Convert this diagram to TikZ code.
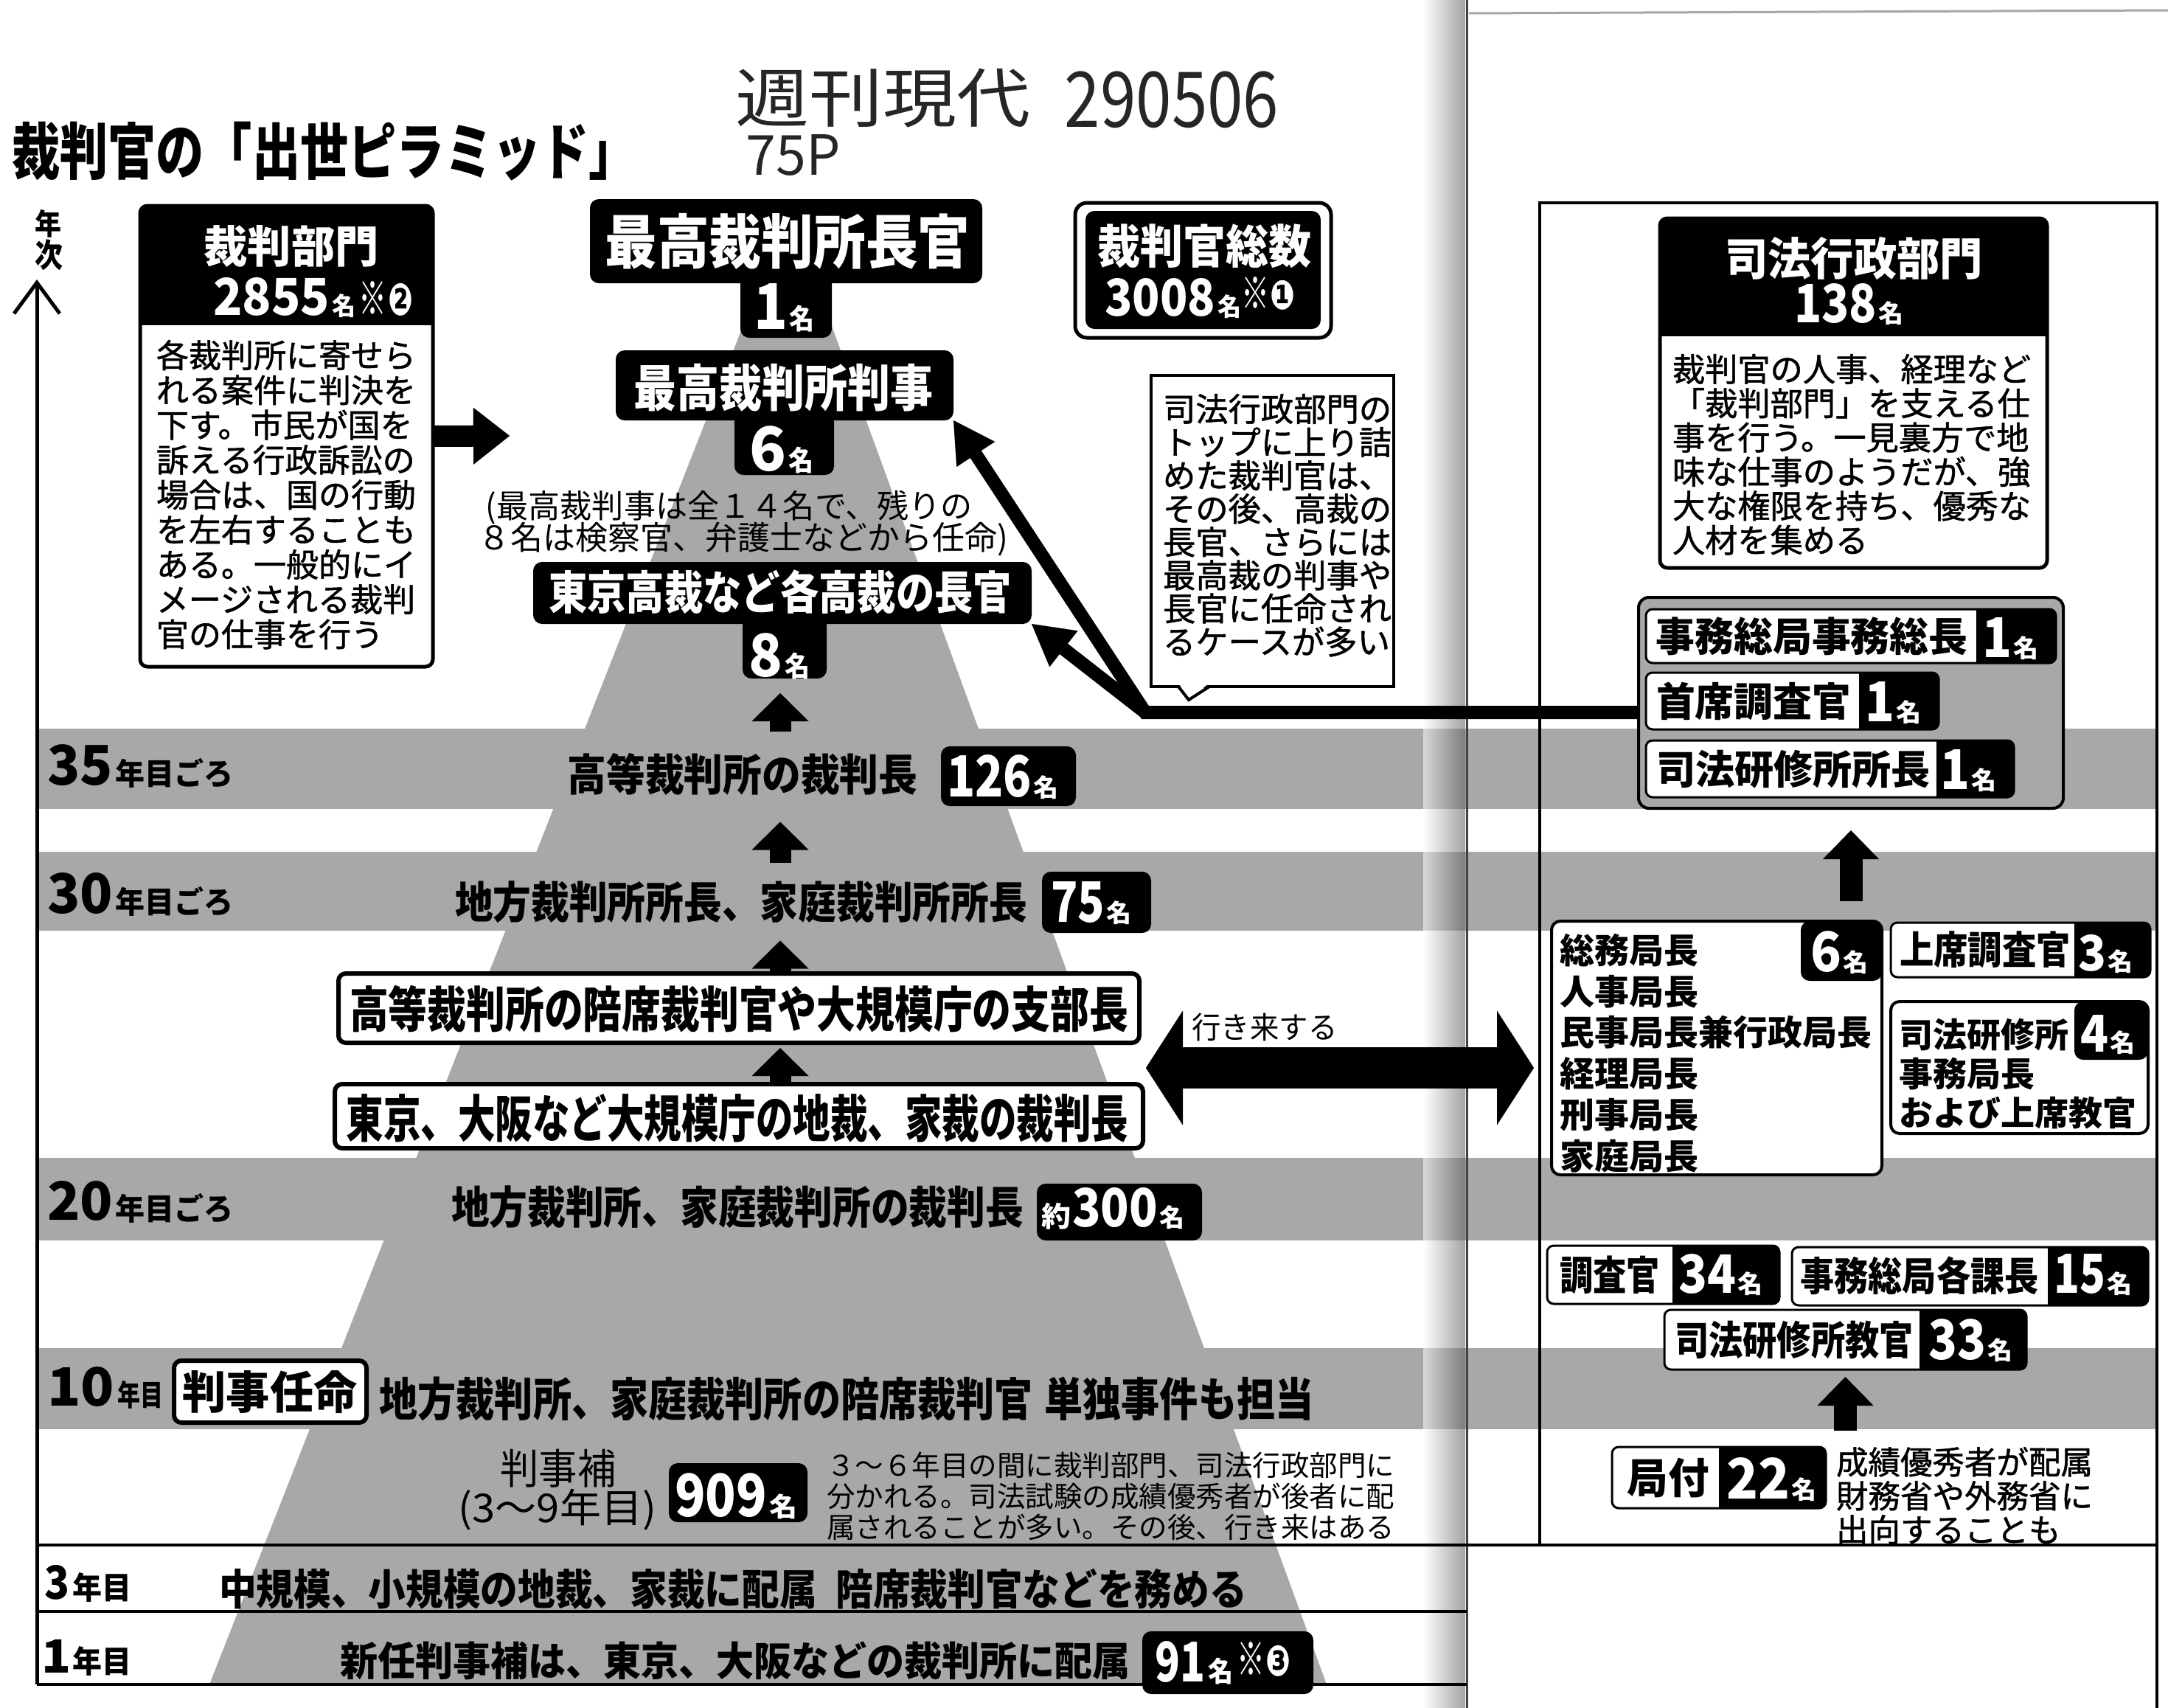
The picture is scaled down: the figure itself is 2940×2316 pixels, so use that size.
\documentclass[tikz,border=0pt]{standalone}
\usepackage{fontspec}
\usepackage{graphicx}
\setmainfont{Noto Sans CJK JP}
\newfontfamily\jpm{Noto Sans CJK JP}[FakeBold=1.2]
\newfontfamily\djv{DejaVu Sans}
\usetikzlibrary{arrows.meta}
\definecolor{band}{gray}{0.66}
\newcommand\cz[3]{\resizebox*{#1pt}{#2pt}{#3}}
\newcommand\fsz[2]{\fontsize{#1pt}{#2pt}\selectfont}
\newcommand\mei[1][34]{\cz{34}{#1}{名}}
\newcommand\bx[6][]{\node[inner sep=0pt,outer sep=0pt,minimum width={#5-#3},minimum height={#6-#4},#1] (#2) at ({(#3+#5)/2},{(#4+#6)/2}) {};}
% white box with black tab on the right: name x1 y1 x2 y2 xtab
\newcommand\tbx[6]{%
 \bx[fill=white,rounded corners=9pt]{#1}{#2}{#3}{#4}{#5}%
 \begin{scope}\clip (#6,#3-10) rectangle (#4+10,#5+10);
 \fill[rounded corners=9pt] (#2,#3) rectangle (#4,#5);\end{scope}%
 \draw[line width=3pt,rounded corners=9pt] (#2,#3) rectangle (#4,#5);}
% white box with black header: name x1 y1 x2 y2 yheader
\newcommand\hbx[6]{%
 \bx[fill=white,rounded corners=10pt]{#1}{#2}{#3}{#4}{#5}%
 \begin{scope}\clip (#2-10,#3-10) rectangle (#4+10,#6);
 \fill[rounded corners=10pt] (#2,#3) rectangle (#4,#5);\end{scope}%
 \draw[line width=5pt,rounded corners=10pt] (#2,#3) rectangle (#4,#5);}
\tikzset{
 lbl/.style={inner sep=0pt,outer sep=0pt},
 wt/.style={lbl,text=white,font=\bfseries},
 bt/.style={lbl,text=black,font=\bfseries},
 rt/.style={lbl,text=black},
 blk/.style={fill=black,rounded corners=12pt},
 wb6/.style={fill=white,draw=black,line width=6pt,rounded corners=10pt},
 rwb/.style={fill=white,draw=black,line width=4pt,rounded corners=12pt},
 upa/.style={line width=29pt,-{Triangle[length=38pt,width=77pt,line width=0.1pt]}},
 upr/.style={line width=31pt,-{Triangle[length=39pt,width=76pt,line width=0.1pt]}},
 conn/.style={line width=18pt,-{Triangle[length=55pt,width=62pt,line width=0.1pt]}},
 fat/.style={line width=29pt,-{Triangle[length=49pt,width=77pt,line width=0.1pt]}},
 dbl/.style={line width=56pt,{Triangle[length=50pt,width=155pt,line width=0.1pt]}-{Triangle[length=50pt,width=155pt,line width=0.1pt]}},
 frame/.style={line width=4pt},
}
\begin{document}
\begin{tikzpicture}[x=1pt,y=-1pt]
\useasboundingbox (0,0) rectangle (2940,2316);
\fill[white] (0,0) rectangle (2940,2316);
% bands and pyramid
\foreach \a/\b in {988/1097,1155/1262,1570/1682,1828/1938} \fill[band] (50,\a) rectangle (2925,\b);
\fill[band] (1070,283) -- (1799,2284) -- (284,2284) -- cycle;
% gutter
\shade[left color=white,right color=black!65,opacity=0.55] (1930,0) rectangle (1987,2316);
\draw[line width=3pt,black!75] (1989,0) -- (1989,2316);
\draw[black!35,line width=3pt] (1992,18) -- (2940,14);
% frames
\draw[frame] (2088,275) rectangle (2925,2095);
\draw[frame] (2925,2095) -- (2925,2316);
\draw[frame] (50,2095) -- (2088,2095);
\draw[frame] (50,2185) -- (1989,2185);
\draw[frame] (50,2284) -- (1989,2284);
\draw[line width=5pt,-{Straight Barb[length=42pt,width=62pt]}] (50,2284) -- (50,379);

% title and handwriting
\node[bt] (title) at (440,205) {\cz{848}{80}{裁判官の「出世ピラミッド」}};
\node[rt,text=black!85] (hw1) at (1197,133) {\cz{400}{80}{週刊現代}};
\node[rt,text=black!85] (hw2) at (1589,135) {\cz{290}{77}{290506}};
\node[rt,text=black!85] (hw3) at (1076,210) {\cz{128}{56}{75P}};
\node[bt] (nen) at (66,303) {\cz{36}{38}{年}};
\node[bt] (ji) at (66,346) {\cz{38}{42}{次}};

% saiban bumon
\hbx{kb}{190}{279}{587}{904}{440}
\node[wt] (kbT) at (395,334) {\cz{237}{57}{裁判部門}};
\node[wt,anchor=base west] (kbN) at (289,427) {\cz{158}{52}{2855}\hspace{3pt}\cz{32}{32}{名}\hspace{4pt}\cz{38}{46}{※}\hspace{2pt}\cz{34}{44}{\djv ❷}};
\node[rt,anchor=north west,text width=380pt,align=left,font=\jpm\fsz{44}{47.3}] (kbB) at (212,461) {各裁判所に寄せら\\れる案件に判決を\\下す。市民が国を\\訴える行政訴訟の\\場合は、国の行動\\を左右することも\\ある。一般的にイ\\メージされる裁判\\官の仕事を行う};

% top of pyramid
\bx[blk]{chief}{800}{270}{1332}{384}
\bx[blk]{chiefN}{1004}{372}{1128}{458}
\node[wt] (chiefT) at (1068,327) {\cz{495}{76}{最高裁判所長官}};
\node[wt,anchor=base west] (chiefC) at (1022,446) {\cz{46}{62}{1}\hspace{2pt}\mei[36]};
\bx[blk]{sj}{835}{475}{1293}{570}
\bx[blk]{sjN}{996}{560}{1131}{644}
\node[wt] (sjT) at (1062,526) {\cz{406}{65}{最高裁判所判事}};
\node[wt,anchor=base west] (sjC) at (1016,638) {\cz{50}{62}{6}\hspace{3pt}\mei[36]};
\node[rt] (note1) at (989,688) {\cz{660}{46}{(最高裁判事は全１４名で、残りの}};
\node[rt] (note2) at (1008,731) {\cz{718}{46}{８名は検察官、弁護士などから任命)}};
\bx[blk]{tk}{723}{762}{1399}{846}
\bx[blk]{tkN}{1007}{836}{1121}{920}
\node[wt] (tkT) at (1058,803) {\cz{628}{60}{東京高裁など各高裁の長官}};
\node[wt,anchor=base west] (tkC) at (1015,917) {\cz{46}{60}{8}\hspace{3pt}\mei[36]};

% total
\bx[fill=white,draw=black,line width=5pt,rounded corners=16pt]{tot}{1458}{275}{1805}{458}
\bx[blk]{totIn}{1472}{286}{1791}{446}
\node[wt] (totT) at (1633,334) {\cz{290}{60}{裁判官総数}};
\node[wt,anchor=base west] (totN) at (1498,428) {\cz{150}{52}{3008}\hspace{3pt}\cz{32}{32}{名}\raisebox{9pt}{\cz{38}{44}{※}\hspace{1pt}\cz{34}{40}{\djv ❶}}};

% callout
\bx[fill=white,draw=black,line width=4pt]{call}{1561}{509}{1890}{931}
\fill[white] (1598,926) -- (1612,949) -- (1640,926) -- cycle;
\draw[line width=4pt,line join=miter] (1598,931) -- (1612,949) -- (1640,931);
\node[rt,anchor=north west,text width=330pt,align=left,font=\jpm\fsz{44.3}{45.1}] (callT) at (1577,534) {司法行政部門の\\トップに上り詰\\めた裁判官は、\\その後、高裁の\\長官、さらには\\最高裁の判事や\\長官に任命され\\るケースが多い};

% rows
\node[bt,anchor=base west] (y35) at (64,1064) {\cz{89}{56}{35}\hspace{3pt}\cz{160}{40}{年目ごろ}};
\node[bt] (r35) at (1007,1050) {\cz{475}{57}{高等裁判所の裁判長}};
\bx[blk]{n126}{1276}{1012}{1459}{1093}
\node[wt,anchor=base west] (n126T) at (1284,1080) {\cz{115}{58}{126}\hspace{2pt}\mei[32]};
\node[bt,anchor=base west] (y30) at (64,1238) {\cz{89}{56}{30}\hspace{3pt}\cz{160}{40}{年目ごろ}};
\node[bt] (r30) at (1005,1223) {\cz{776}{57}{地方裁判所所長、家庭裁判所所長}};
\bx[blk]{n75}{1413}{1182}{1561}{1265}
\node[wt,anchor=base west] (n75T) at (1425,1250) {\cz{73}{56}{75}\hspace{2pt}\mei[32]};
\bx[wb6]{kt}{459}{1320}{1545}{1414}
\node[bt] (ktT) at (1002,1368) {\cz{1056}{64}{高等裁判所の陪席裁判官や大規模庁の支部長}};
\bx[wb6]{tkc}{454}{1470}{1550}{1557}
\node[bt] (tkcT) at (1000,1516) {\cz{1061}{66}{東京、大阪など大規模庁の地裁、家裁の裁判長}};
\node[rt] (ikiki) at (1715,1393) {\cz{197}{38}{行き来する}};
\node[bt,anchor=base west] (y20) at (64,1654) {\cz{89}{54}{20}\hspace{3pt}\cz{160}{40}{年目ごろ}};
\node[bt] (r20) at (1000,1637) {\cz{776}{58}{地方裁判所、家庭裁判所の裁判長}};
\bx[blk]{n300}{1406}{1605}{1630}{1682}
\node[wt,anchor=base west] (n300T) at (1412,1663) {\cz{40}{36}{約}\hspace{2pt}\cz{116}{54}{300}\hspace{2pt}\mei[32]};
\node[bt,anchor=base west] (y10) at (64,1906) {\cz{91}{54}{10}\hspace{4pt}\cz{62}{38}{年目}};
\bx[wb6]{ninmei}{236}{1845}{497}{1929}
\node[bt] (ninmeiT) at (366,1888) {\cz{237}{58}{判事任命}};
\node[bt] (r10) at (1148,1897) {\cz{1267}{60}{地方裁判所、家庭裁判所の陪席裁判官\hspace{3pt}単独事件も担当}};
\node[rt] (hjh) at (757,1991) {\cz{157}{52}{判事補}};
\node[rt] (hjh2) at (756,2047) {\cz{268}{56}{(3～9年目)}};
\bx[blk]{n909}{907}{1984}{1095}{2064}
\node[wt,anchor=base west] (n909T) at (915,2056) {\cz{125}{60}{909}\hspace{3pt}\cz{38}{34}{名}};
\node[rt,anchor=north west,text width=800pt,align=left,font=\fsz{38.5}{42}] (note3) at (1121,1969) {３～６年目の間に裁判部門、司法行政部門に\\分かれる。司法試験の成績優秀者が後者に配\\属されることが多い。その後、行き来はある};
\node[bt,anchor=base west] (y3) at (60,2168) {\cz{34}{47}{3}\hspace{4pt}\cz{80}{40}{年目}};
\node[bt] (r3) at (994,2155) {\cz{1394}{55}{中規模、小規模の地裁、家裁に配属\hspace{5pt}陪席裁判官などを務める}};
\node[bt,anchor=base west] (y1) at (56,2268) {\cz{40}{45}{1}\hspace{2pt}\cz{80}{40}{年目}};
\node[bt] (r1) at (997,2252) {\cz{1072}{52}{新任判事補は、東京、大阪などの裁判所に配属}};
\bx[blk]{n91}{1549}{2212}{1781}{2297}
\node[wt,anchor=base west] (n91T) at (1566,2280) {\cz{68}{56}{91}\hspace{4pt}\cz{34}{36}{名}\hspace{5pt}\raisebox{8pt}{\cz{38}{46}{※}\hspace{1pt}\cz{34}{42}{\djv ❸}}};

% right page
\hbx{sb}{2251}{296}{2776}{770}{455}
\node[wt] (sbT) at (2514,350) {\cz{350}{58}{司法行政部門}};
\node[wt,anchor=base west] (sbN) at (2433,437) {\cz{112}{54}{138}\hspace{2pt}\mei[32]};
\node[rt,anchor=north west,text width=500pt,align=left,font=\jpm\fsz{44.2}{46.4}] (sbB) at (2268,480) {裁判官の人事、経理など\\「裁判部門」を支える仕\\事を行う。一見裏方で地\\味な仕事のようだが、強\\大な権限を持ち、優秀な\\人材を集める};

\bx[fill=band,draw=black,line width=4pt,rounded corners=14pt]{grp}{2222}{810}{2798}{1096}
\tbx{g1}{2232}{826}{2788}{899}{2680}
\node[bt] (g1T) at (2457,863) {\cz{423}{52}{事務総局事務総長}};
\node[wt,anchor=base west] (g1N) at (2688,891) {\cz{40}{54}{1}\hspace{2pt}\mei[32]};
\tbx{g2}{2232}{912}{2629}{989}{2521}
\node[bt] (g2T) at (2378,951) {\cz{264}{52}{首席調査官}};
\node[wt,anchor=base west] (g2N) at (2529,978) {\cz{40}{54}{1}\hspace{2pt}\mei[32]};
\tbx{g3}{2232}{1004}{2731}{1081}{2626}
\node[bt] (g3T) at (2432,1043) {\cz{372}{52}{司法研修所所長}};
\node[wt,anchor=base west] (g3N) at (2631,1070) {\cz{40}{54}{1}\hspace{2pt}\mei[32]};

\bx[rwb]{box6}{2104}{1249}{2552}{1593}
\bx[blk]{box6N}{2442}{1249}{2552}{1330}
\node[wt,anchor=base west] (box6C) at (2455,1317) {\cz{42}{56}{6}\hspace{2pt}\mei[32]};
\node[bt,anchor=north west,text width=440pt,align=left,font={\bfseries\fsz{47}{55.8}}] (box6T) at (2115,1266) {総務局長\\人事局長\\民事局長兼行政局長\\経理局長\\刑事局長\\家庭局長};
\tbx{js}{2564}{1251}{2916}{1325}{2813}
\node[bt] (jsT) at (2692,1288) {\cz{232}{50}{上席調査官}};
\node[wt,anchor=base west] (jsN) at (2818,1316) {\cz{38}{50}{3}\hspace{2pt}\mei[32]};
\bx[rwb]{k4}{2564}{1358}{2913}{1537}
\bx[blk]{k4N}{2813}{1358}{2913}{1437}
\node[wt,anchor=base west] (k4C) at (2821,1426) {\cz{38}{50}{4}\hspace{2pt}\mei[32]};
\node[bt,anchor=north west,text width=340pt,align=left,font={\bfseries\fsz{46}{53}}] (k4T) at (2575,1381) {司法研修所\\事務局長\\および上席教官};

\tbx{c34}{2098}{1689}{2413}{1768}{2268}
\node[bt] (c34T) at (2183,1729) {\cz{136}{52}{調査官}};
\node[wt,anchor=base west] (c34N) at (2276,1753) {\cz{78}{54}{34}\hspace{2pt}\mei[32]};
\tbx{c15}{2430}{1691}{2913}{1770}{2777}
\node[bt] (c15T) at (2603,1730) {\cz{323}{52}{事務総局各課長}};
\node[wt,anchor=base west] (c15N) at (2785,1753) {\cz{70}{54}{15}\hspace{2pt}\mei[32]};
\tbx{c33}{2257}{1776}{2748}{1857}{2603}
\node[bt] (c33T) at (2433,1817) {\cz{324}{52}{司法研修所教官}};
\node[wt,anchor=base west] (c33N) at (2615,1843) {\cz{78}{56}{33}\hspace{2pt}\mei[32]};
\tbx{c22}{2186}{1962}{2476}{2045}{2331}
\node[bt] (c22T) at (2262,2004) {\cz{111}{54}{局付}};
\node[wt,anchor=base west] (c22N) at (2341,2032) {\cz{86}{56}{22}\hspace{2pt}\mei[32]};
\node[rt,anchor=north west,text width=400pt,align=left,font=\jpm\fsz{43.5}{46}] (c22B) at (2490,1962) {成績優秀者が配属\\財務省や外務省に\\出向することも};

% connectors and arrows
\coordinate (kbt) at (691,591);
\draw[fat] (kb.east) -- (kbt);
\coordinate (ax) at (1058,0);
\draw[upa,shorten <=30pt,shorten >=20pt] (ax |- r35.north) -- (ax |- tkN.south);
\draw[upa,shorten <=25pt,shorten >=36pt] (ax |- r30.north) -- (ax |- r35.south);
\draw[upa,shorten >=24pt] (ax |- kt.north) -- (ax |- r30.south);
\draw[upa,shorten >=7pt] (ax |- tkc.north) -- (ax |- kt.south);
\draw[upr,shorten <=27pt,shorten >=30pt] (box6.north -| grp.south) -- (grp.south);
\draw[upr,shorten <=22pt,shorten >=10pt] (c22.north -| c33.south) -- (c33.south);
\coordinate (xl) at (1554,1448);
\draw[dbl,shorten >=24pt] (xl) -- (xl -| box6.west);
\coordinate (jn) at (1553,966);
\draw[conn,line join=miter] (grp.west |- jn) -- (jn) -- (sj.south east);
\draw[conn] (jn) -- (tk.south east);
\end{tikzpicture}
\end{document}
